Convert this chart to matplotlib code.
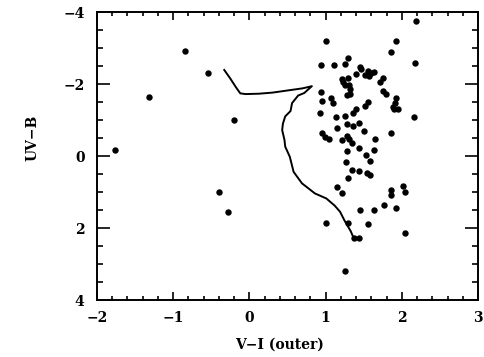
import matplotlib
matplotlib.use("Agg")
import matplotlib.pyplot as plt
from matplotlib.ticker import MultipleLocator, FixedLocator

# Colour indices of the clusters: V-I (outer) vs UV-B
vi = [-1.76, -1.32, -0.85, -0.54, -0.20, -0.40, -0.28, 1.25,
      2.18, 1.01, 1.93, 1.86, 2.17, 0.94, 1.11, 1.26, 1.29, 1.45,
      1.47, 1.40, 1.52, 1.56, 1.60, 1.57, 1.64, 1.22, 1.30, 1.23,
      1.25, 1.31, 1.32, 1.28, 1.32, 1.71, 1.75, 1.75, 1.79, 0.94,
      0.95, 1.07, 1.10, 0.93, 1.55, 1.52, 1.40, 1.36, 1.93, 1.91,
      1.89, 1.90, 1.95, 2.16, 1.14, 1.25, 1.28, 1.36, 1.44, 1.15,
      1.51, 0.95, 0.99, 1.04, 1.86, 1.28, 1.31, 1.22, 1.34, 1.65,
      1.44, 1.64, 1.28, 1.53, 1.58, 1.27, 1.35, 1.44, 1.54, 1.58,
      1.29, 1.15, 1.22, 1.45, 1.64, 1.77, 1.86, 1.86, 1.92, 2.02,
      2.04, 1.01, 1.29, 1.56, 1.37, 1.44, 2.04]
uvb = [-0.17, -1.64, -2.92, -2.30, -1.00, 1.00, 1.56, 3.19,
       -3.76, -3.19, -3.20, -2.89, -2.57, -2.54, -2.54, -2.56, -2.71, -2.48,
       -2.42, -2.27, -2.25, -2.37, -2.31, -2.22, -2.34, -2.14, -2.16, -2.05,
       -1.97, -1.97, -1.85, -1.69, -1.71, -2.06, -2.16, -1.81, -1.71, -1.77,
       -1.53, -1.62, -1.46, -1.20, -1.51, -1.39, -1.31, -1.19, -1.62, -1.46,
       -1.37, -1.30, -1.30, -1.07, -1.07, -1.11, -0.88, -0.83, -0.93, -0.77,
       -0.70, -0.63, -0.52, -0.46, -0.63, -0.56, -0.46, -0.44, -0.37, -0.46,
       -0.21, -0.17, -0.14, -0.03, 0.14, 0.16, 0.39, 0.42, 0.48, 0.53,
       0.62, 0.87, 1.04, 1.50, 1.50, 1.35, 0.94, 1.08, 1.44, 0.82,
       1.01, 1.87, 1.87, 1.90, 2.28, 2.27, 2.15]

# Model evolutionary track
track_vi = [-0.33, -0.25, -0.18, -0.12, -0.05, 0.12, 0.30, 0.50, 0.70, 0.82,
            0.72, 0.64, 0.56, 0.54, 0.47, 0.44, 0.43, 0.46, 0.47, 0.53,
            0.58, 0.69, 0.86, 1.01, 1.12, 1.19, 1.25, 1.33, 1.37]
track_uvb = [-2.39, -2.15, -1.92, -1.74, -1.72, -1.73, -1.76, -1.82, -1.88, -1.94,
             -1.75, -1.68, -1.47, -1.25, -1.10, -0.90, -0.72, -0.45, -0.26, 0.02,
             0.44, 0.76, 1.04, 1.18, 1.38, 1.55, 1.80, 2.09, 2.29]

x_ticks = [-2, -1, 0, 1, 2, 3]
y_ticks = [-4, -2, 0, 2, 4]

font = dict(family="DejaVu Serif", weight="bold", size=10)

fig = plt.figure(figsize=(4.85, 3.57), dpi=100)
ax = fig.add_axes([97 / 485, 1 - 300 / 357, 381 / 485, 288 / 357])

ax.plot(track_vi, track_uvb, color="black", lw=1.4, solid_joinstyle="round")
ax.plot(vi, uvb, "o", color="black", ms=4.6, mew=0)

ax.set_xlim(-2, 3)
ax.set_ylim(4, -4)
ax.xaxis.set_major_locator(FixedLocator(x_ticks))
ax.yaxis.set_major_locator(FixedLocator(y_ticks))
ax.xaxis.set_minor_locator(MultipleLocator(0.2))
ax.yaxis.set_minor_locator(MultipleLocator(0.5))
ax.set_xticklabels([f"{t}".replace("-", "\u2212") for t in x_ticks], **font)
ax.set_yticklabels([f"{t}".replace("-", "\u2212") for t in y_ticks], **font)

ax.tick_params(which="both", direction="in", top=True, right=True, width=1.2)
ax.tick_params(axis="x", which="major", length=5.8, pad=8)
ax.tick_params(axis="x", which="minor", length=2.9)
ax.tick_params(axis="y", which="major", length=9.4, pad=9)
ax.tick_params(axis="y", which="minor", length=4.3)
for s in ax.spines.values():
    s.set_linewidth(1.4)

ax.set_xlabel("V\u2212I (outer)", **font)
ax.set_ylabel("UV\u2212B", **font)
ax.xaxis.set_label_coords(0.478, -0.13)
ax.yaxis.set_label_coords(-0.15, 0.5625)

fig.savefig("out.png", dpi=100)
